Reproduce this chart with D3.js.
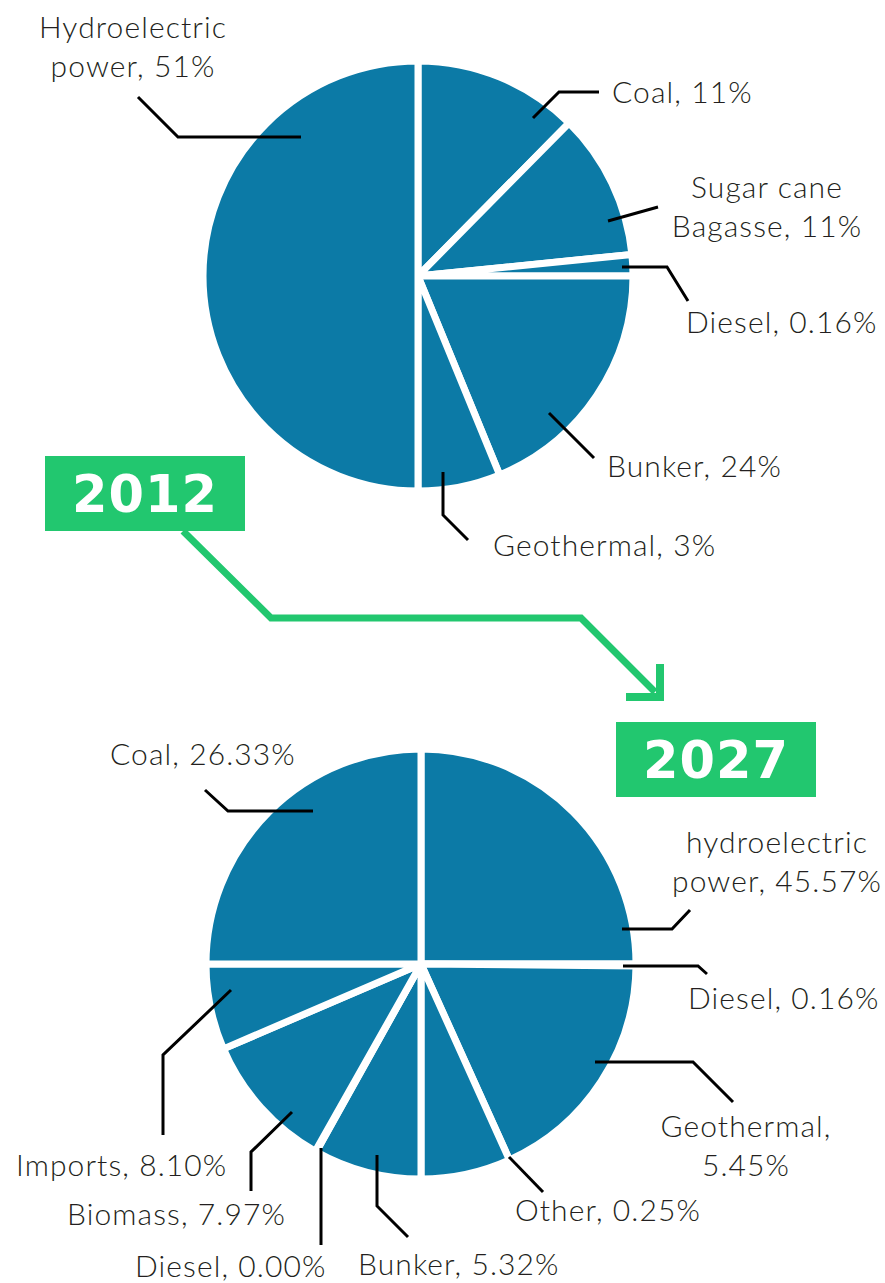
<!DOCTYPE html>
<html>
<head>
<meta charset="utf-8">
<script src="https://cdn.jsdelivr.net/npm/d3@7"></script>
<style>
  body { margin: 0; background: #fff; }
  text { font-family: "Lato", "Open Sans", sans-serif; font-weight: 300; fill: #231f20; letter-spacing: 1.1px; }
</style>
</head>
<body>
<div id="chart"></div>
<script>
// 2012 mix (clockwise from 12 o'clock)
var names2012 = ["Coal", "Sugar cane Bagasse", "Diesel", "Bunker", "Geothermal", "Hydroelectric power"];
var printed2012 = ["11%", "11%", "0.16%", "24%", "3%", "51%"];
// the slices are not drawn to the printed figures, so these are the shares as drawn
var drawn2012 = [12.4, 11.0, 1.6, 18.8, 6.2, 50.0];

// 2027 mix
var names2027 = ["hydroelectric power", "Diesel", "Geothermal", "Other", "Bunker", "Diesel", "Biomass", "Imports", "Coal"];
var printed2027 = ["45.57%", "0.16%", "5.45%", "0.25%", "5.32%", "0.00%", "7.97%", "8.10%", "26.33%"];
var drawn2027 = [25, 0.14, 18.1, 6.75, 8.1, 0.08, 10.36, 6.45, 25];

var years = ["2012", "2027"];

var width = 885;
var height = 1283;
var radius = 215;
var blue = "#0c7aa6";
var green = "#22c76f";

var svg = d3.select("#chart")
    .append("svg")
    .attr("width", width)
    .attr("height", height);

// label placement: x, baseline y, anchor, words before line break, leader polyline
var layout2012 = [
    {x: 612, y: 103, anchor: "start", brk: 0, leader: [[533, 118], [559, 92], [599, 92]]},
    {x: 767, y: 198, anchor: "middle", brk: 2, leader: [[608, 221], [658, 207]]},
    {x: 686, y: 333, anchor: "start", brk: 0, leader: [[622, 267], [667, 267], [688, 301]]},
    {x: 607, y: 477, anchor: "start", brk: 0, leader: [[549, 413], [594, 458]]},
    {x: 493, y: 556, anchor: "start", brk: 0, leader: [[443, 472], [443, 515], [468, 540]]},
    {x: 133, y: 38, anchor: "middle", brk: 1, leader: [[138, 97], [178, 137], [301, 137]]}
];

var layout2027 = [
    {x: 777, y: 853, anchor: "middle", brk: 1, leader: [[622, 929], [672, 929], [690, 910]]},
    {x: 688, y: 1009, anchor: "start", brk: 0, leader: [[623, 966], [698, 966], [707, 974]]},
    {x: 746, y: 1137, anchor: "middle", brk: 1, leader: [[595, 1062], [693, 1062], [733, 1102]]},
    {x: 515, y: 1221, anchor: "start", brk: 0, leader: [[509, 1157], [543, 1192]]},
    {x: 358, y: 1275, anchor: "start", brk: 0, leader: [[377, 1155], [377, 1206], [408, 1237]]},
    {x: 135, y: 1277, anchor: "start", brk: 0, leader: [[321, 1148], [321, 1245]]},
    {x: 67, y: 1225, anchor: "start", brk: 0, leader: [[292, 1112], [251, 1152], [251, 1191]]},
    {x: 16, y: 1176, anchor: "start", brk: 0, leader: [[231, 990], [163, 1055], [163, 1135]]},
    {x: 110, y: 765, anchor: "start", brk: 0, leader: [[205, 790], [228, 811], [313, 811]]}
];

var pie = d3.pie().sort(null).value(function(d) { return d; });
var arc = d3.arc().innerRadius(0).outerRadius(radius);
var line = d3.line();

function drawPie(cx, cy, values, names, printed, layout) {
    var g = svg.append("g").attr("transform", "translate(" + cx + "," + cy + ")");
    g.selectAll("path")
        .data(pie(values))
        .enter()
        .append("path")
        .attr("d", arc)
        .attr("fill", blue)
        .attr("stroke", "#fff")
        .attr("stroke-width", 7)
        .attr("stroke-linejoin", "round");

    svg.append("g").selectAll("path")
        .data(layout)
        .enter()
        .append("path")
        .attr("d", function(d) { return line(d.leader); })
        .attr("fill", "none")
        .attr("stroke", "#000")
        .attr("stroke-width", 3);

    var labels = svg.append("g").selectAll("text")
        .data(layout)
        .enter()
        .append("text")
        .attr("x", function(d) { return d.x; })
        .attr("y", function(d) { return d.y; })
        .attr("text-anchor", function(d) { return d.anchor; })
        .attr("font-size", "30px");

    labels.each(function(d, i) {
        var words = (names[i] + ", " + printed[i]).split(" ");
        var rows = d.brk ? [words.slice(0, d.brk).join(" "), words.slice(d.brk).join(" ")] : [words.join(" ")];
        d3.select(this).selectAll("tspan")
            .data(rows)
            .enter()
            .append("tspan")
            .attr("x", d.x)
            .attr("dy", function(r, j) { return j ? 39 : 0; })
            .text(function(r) { return r; });
    });
}

drawPie(418, 276, drawn2012, names2012, printed2012, layout2012);
drawPie(421, 964, drawn2027, names2027, printed2027, layout2027);

// arrow from 2012 to 2027
svg.append("path")
    .attr("d", line([[183, 531], [271, 618], [581, 618], [655, 692]]))
    .attr("fill", "none")
    .attr("stroke", green)
    .attr("stroke-width", 7);
svg.append("path")
    .attr("d", line([[626, 697], [660, 697], [660, 664]]))
    .attr("fill", "none")
    .attr("stroke", green)
    .attr("stroke-width", 8)
    .attr("stroke-linejoin", "miter");

var boxes = [{x: 45, y: 456}, {x: 616, y: 722}];
svg.selectAll("rect.year")
    .data(years)
    .enter()
    .append("rect")
    .attr("class", "year")
    .attr("x", function(d, i) { return boxes[i].x; })
    .attr("y", function(d, i) { return boxes[i].y; })
    .attr("width", 200)
    .attr("height", 75)
    .attr("fill", green);
svg.selectAll("text.year")
    .data(years)
    .enter()
    .append("text")
    .attr("class", "year")
    .attr("x", function(d, i) { return boxes[i].x + 100; })
    .attr("y", function(d, i) { return boxes[i].y + 56; })
    .attr("text-anchor", "middle")
    .attr("font-size", "51px")
    .style("font-family", "DejaVu Sans")
    .style("font-weight", "bold")
    .style("fill", "#fff")
    .style("letter-spacing", "1px")
    .text(function(d) { return d; });
</script>
</body>
</html>
